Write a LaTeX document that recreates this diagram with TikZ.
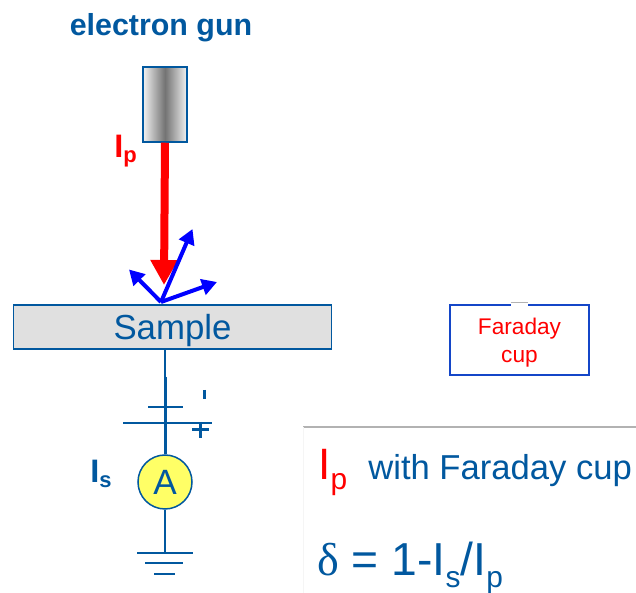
\documentclass[tikz,border=0pt]{standalone}
\usepackage{fontspec}
\setmainfont{Liberation Sans}
\newfontfamily\greekfont{Liberation Serif}
\usetikzlibrary{arrows.meta}
\definecolor{deckblue}{HTML}{01589F}
\definecolor{cupblue}{HTML}{1446C8}
\definecolor{meteryellow}{HTML}{FFFF66}
\tikzset{
	wire/.style={line width=0.04cm, color=deckblue},
	scatter/.style={line width=0.08cm, color=blue, -{Triangle[width=0.32cm,length=0.3cm]}},
	bluetext/.style={color=deckblue, inner sep=0pt},
	redtext/.style={color=red, inner sep=0pt}
}

\begin{document}
\begin{tikzpicture}
			%%%%% START %%%%%
			\useasboundingbox (0, 0) rectangle (12.72, 11.86);
			
			\node[bluetext, font=\fontsize{17.3}{20}\selectfont\bfseries] (gunlabel) at (3.22, 11.31) {electron gun};
			\node[draw=deckblue, line width=0.03cm, minimum width=0.88cm, minimum height=1.5cm, inner sep=0pt, left color=white!95!black, right color=white!95!black, middle color=black!55] (gun) at (3.3, 9.77) {};
			
			\node[redtext, font=\fontsize{18.5}{22}\selectfont\bfseries, anchor=base west] (iplabel) at (2.28, 8.7) {I\raisebox{-0.1cm}{\fontsize{12.5}{15}\selectfont p}};
			
			\node[draw=deckblue, fill=black!12, line width=0.03cm, minimum width=6.36cm, minimum height=0.88cm, inner sep=0pt, text=deckblue, text depth=0pt, font=\fontsize{19.8}{23}\selectfont] (sample) at (3.45, 5.32) {Sample};
			
			\coordinate (hit) at (3.22, 5.82);
			\coordinate (redtip) at (3.28, 6.16);
			\draw[line width=0.16cm, color=red, -{Triangle[width=0.52cm,length=0.5cm]}] (gun.south) -- (redtip);
			\draw[scatter] (hit) -- (3.85, 7.28);
			\draw[scatter] (hit) -- (2.58, 6.47);
			\draw[scatter] (hit) -- (4.34, 6.22);
			
			\node[draw=deckblue, fill=meteryellow, line width=0.03cm, circle, minimum size=1.08cm, inner sep=0pt, text=deckblue, font=\fontsize{20}{24}\selectfont] (meter) at (3.3, 2.22) {A};
			\node[bluetext, font=\fontsize{18.5}{22}\selectfont\bfseries, anchor=base west] (islabel) at (1.8, 2.2) {I\raisebox{-0.1cm}{\fontsize{12.5}{15}\selectfont s}};
			
			\coordinate (platetop) at (3.3, 3.72);
			\coordinate (platelow) at (3.3, 3.4);
			\coordinate (earth) at (3.3, 0.8);
			\draw[line width=0.025cm, color=deckblue] (sample.south -| meter) -- (3.3, 4.32);
			\draw[line width=0.06cm, color=deckblue] (3.3, 4.32) -- (meter.north);
			\draw[wire] (2.96, 3.72) -- (platetop) -- (3.66, 3.72);
			\draw[wire] (2.46, 3.4) -- (platelow) -- (4.24, 3.4);
			\draw[wire] (meter.south) -- (earth);
			\draw[wire] (2.74, 0.8) -- (earth) -- (3.86, 0.8);
			\draw[wire] (2.9, 0.6) -- (3.66, 0.6);
			\draw[wire] (3.08, 0.38) -- (3.5, 0.38);
			
			\draw[line width=0.06cm, color=deckblue] (3.84, 3.26) -- (4.18, 3.26);
			\draw[line width=0.06cm, color=deckblue] (4.01, 3.42) -- (4.01, 3.1);
			\draw[line width=0.06cm, color=deckblue] (4.08, 4.06) -- (4.08, 3.88);
			
			\node[draw=cupblue, line width=0.035cm, minimum width=2.78cm, minimum height=1.4cm, inner sep=0pt, align=center, text=red, text depth=0pt, font=\fontsize{12.9}{16}\selectfont] (cup) at (10.39, 5.06) {Faraday\\cup};
			\draw[line width=0.08cm, color=white] (10.21, 5.76) -- (10.55, 5.76);
			\draw[line width=0.02cm, color=black!30] (10.21, 5.8) -- (10.55, 5.8);
			
			\draw[line width=0.025cm, color=black!30] (6.06, 3.32) -- (12.72, 3.32);
			\draw[line width=0.01cm, color=black!4] (6.06, 3.32) -- (6.06, 0);
			
			\node[redtext, font=\fontsize{25}{30}\selectfont, anchor=base west] (iptext) at (6.36, 2.26) {I\raisebox{-0.2cm}{\fontsize{17}{20}\selectfont p}};
			\node[bluetext, font=\fontsize{19.7}{23}\selectfont, anchor=base west] (cuptext) at (7.36, 2.26) {with Faraday cup};
			\node[bluetext, font=\fontsize{26.3}{31}\selectfont, anchor=base west] (deltatext) at (6.34, 0.34) {{\greekfont δ} = 1-I\raisebox{-0.24cm}{\fontsize{17}{20}\selectfont s}/I\raisebox{-0.24cm}{\fontsize{17}{20}\selectfont p}};
			%%%%% END %%%%%
		\end{tikzpicture}
\end{document}
